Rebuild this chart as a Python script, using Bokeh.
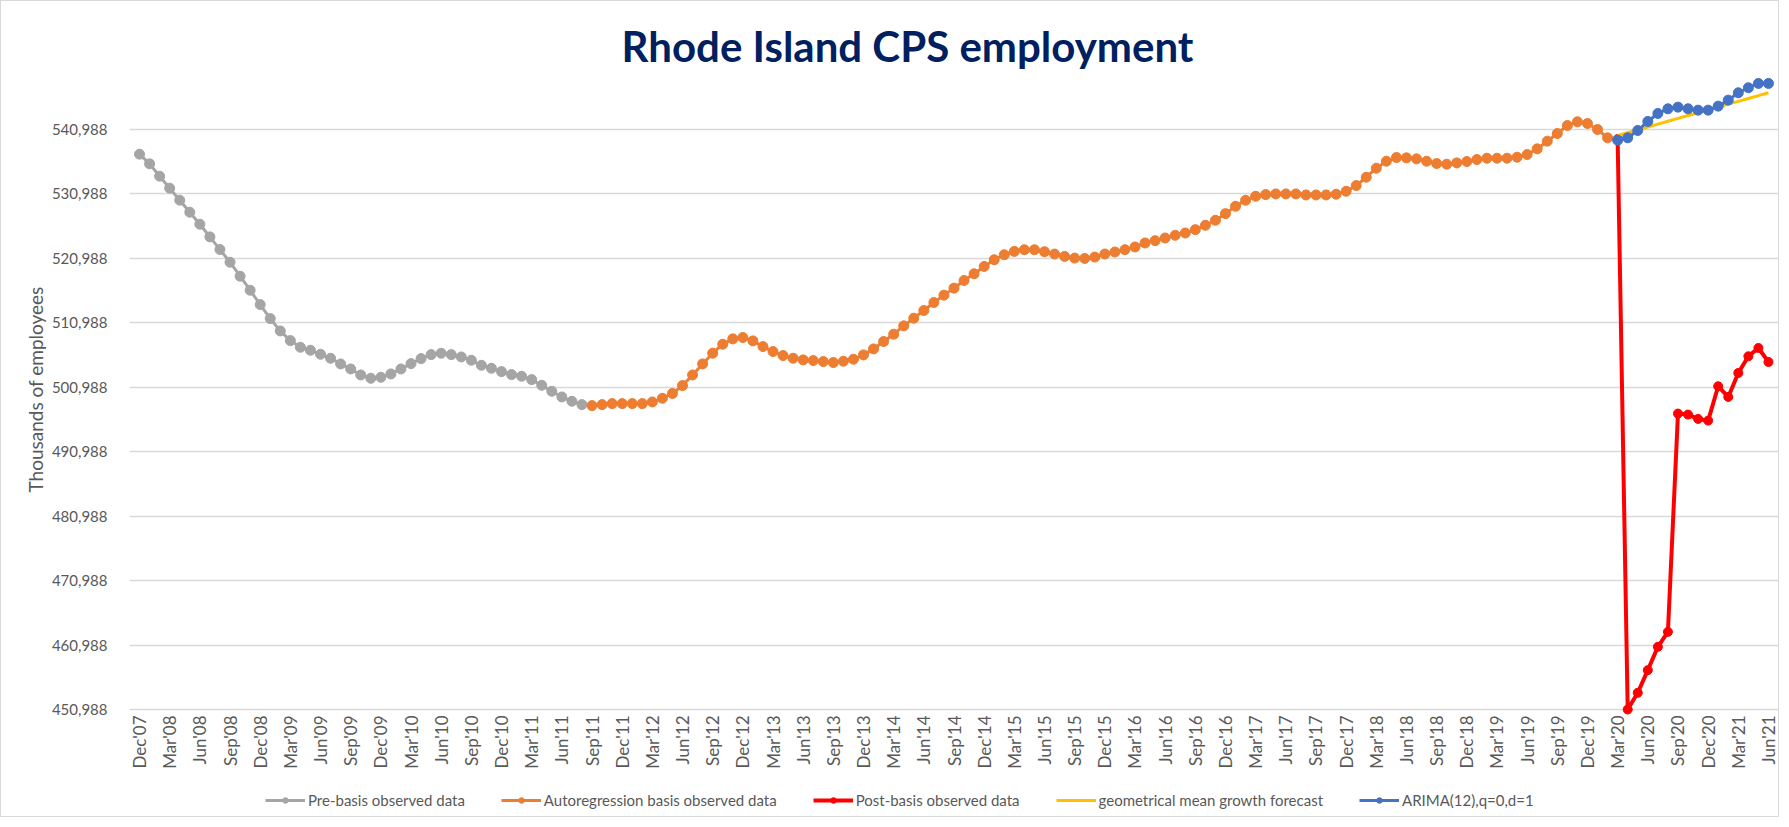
import math
from bokeh.plotting import figure
from bokeh.models import Range1d, FixedTicker, NumeralTickFormatter, Legend, LegendItem, Title
from bokeh.core.properties import value
from bokeh.embed import file_html
from bokeh.resources import INLINE

# ---------------- data ----------------
tick_labels = ["Dec'07", "Mar'08", "Jun'08", "Sep'08", "Dec'08", "Mar'09", "Jun'09", "Sep'09",
               "Dec'09", "Mar'10", "Jun'10", "Sep'10", "Dec'10", "Mar'11", "Jun'11", "Sep'11",
               "Dec'11", "Mar'12", "Jun'12", "Sep'12", "Dec'12", "Mar'13", "Jun'13", "Sep'13",
               "Dec'13", "Mar'14", "Jun'14", "Sep'14", "Dec'14", "Mar'15", "Jun'15", "Sep'15",
               "Dec'15", "Mar'16", "Jun'16", "Sep'16", "Dec'16", "Mar'17", "Jun'17", "Sep'17",
               "Dec'17", "Mar'18", "Jun'18", "Sep'18", "Dec'18", "Mar'19", "Jun'19", "Sep'19",
               "Dec'19", "Mar'20", "Jun'20", "Sep'20", "Dec'20", "Mar'21", "Jun'21"]
n_months = 163  # Dec'07 .. Jun'21

pre_start = 0      # Dec'07
pre_basis = [537159, 535658, 533743, 531880, 530017, 528154, 526291, 524325, 522358, 520392,
             518218, 516045, 513819, 511646, 509731, 508230, 507195, 506729, 506108, 505487,
             504608, 503832, 502900, 502383, 502538, 503055, 503832, 504660, 505436, 506057,
             506264, 506057, 505695, 505177, 504401, 503935, 503418, 502952, 502693, 502176,
             501296, 500364, 499485, 498815, 498297]

ar_start = 45      # Sep'11
ar_basis = [498142, 498297, 498452, 498452, 498452, 498452, 498711, 499280, 500030, 501250,
            502900, 504614, 506272, 507670, 508499, 508706, 508188, 507308, 506531, 505910,
            505495, 505236, 505132, 504977, 504821, 505029, 505339, 506013, 506945, 508085,
            509224, 510519, 511710, 512902, 514145, 515285, 516373, 517564, 518600, 519740,
            520776, 521553, 522071, 522330, 522330, 522019, 521657, 521294, 521035, 520983,
            521190, 521667, 521977, 522340, 522754, 523376, 523739, 524153, 524568, 524930,
            525448, 526121, 526898, 527934, 529074, 530006, 530628, 530887, 530991, 530991,
            530991, 530835, 530835, 530835, 530939, 531405, 532286, 533581, 534979, 536067,
            536637, 536585, 536430, 536067, 535704, 535601, 535808, 536015, 536326, 536533,
            536533, 536533, 536688, 537103, 537983, 539175, 540367, 541610, 542180, 541920,
            540988, 539693]

post_start = 147   # Mar'20
post_basis = [539500, 450988, 453580, 457096, 460714, 463040, 496904, 496749, 496076, 495818,
              501143, 499489, 503211, 505796, 507088, 504917]

geo_forecast = [540056, 540498, 540940, 541382, 541824, 542266, 542708, 543150, 543592, 544034,
                544476, 544918, 545360, 545802, 546244, 546686]

arima = [539330, 539693, 540833, 542232, 543474, 544200, 544459, 544200, 543992, 543992,
         544614, 545546, 546686, 547463, 548137, 548137]

y_ticks = [450988, 460988, 470988, 480988, 490988, 500988, 510988, 520988, 530988, 540988]

# ---------------- layout helpers ----------------
FONT = "Lato"
GREY_TXT = "#595959"
Y_MIN, Y_MAX = 450988, 549988
PLOT_H = 638             # pixel height of the data area (450,988 .. top)
EXTRA_H = 107            # room below the axis for category labels and legend
PLOT_W = 1639            # pixel width of the category area
SIDE_PAD = 5             # extra room left/right so the end labels are not clipped
units_per_px = (Y_MAX - Y_MIN) / PLOT_H
months_per_px = n_months / PLOT_W
y_bottom = Y_MIN - EXTRA_H * units_per_px
x_pad = SIDE_PAD * months_per_px

p = figure(frame_width=PLOT_W + 2 * SIDE_PAD, frame_height=PLOT_H + EXTRA_H, output_backend="svg",
           toolbar_location=None, x_axis_location=None,
           x_range=Range1d(-0.5 - x_pad, n_months - 0.5 + x_pad), y_range=Range1d(y_bottom, Y_MAX),
           min_border_left=133 - SIDE_PAD, min_border_right=0, min_border_top=70, min_border_bottom=0,
           background_fill_color="white", border_fill_color="white")
p.styles = {"border": "1px solid #D9D9D9"}
p.outline_line_color = None

p.title.text = "Rhode Island CPS employment"
p.title.text_font = FONT
p.title.text_font_size = "42px"
p.title.text_font_style = "bold"
p.title.text_color = "#002060"
p.title.align = "left"
p.title.offset = 487 + SIDE_PAD
p.title.standoff = 2

# grid (the 450,988 gridline doubles as the category axis line)
p.xgrid.visible = False
p.ygrid.grid_line_color = "#D9D9D9"
p.ygrid.grid_line_width = 1.5
p.ygrid.ticker = FixedTicker(ticks=y_ticks)

# y axis
p.yaxis.ticker = FixedTicker(ticks=y_ticks)
p.yaxis.formatter = NumeralTickFormatter(format="0,0")
p.yaxis.axis_line_color = None
p.yaxis.major_tick_line_color = None
p.yaxis.minor_tick_line_color = None
p.yaxis.major_label_text_font = FONT
p.yaxis.major_label_text_font_size = "15px"
p.yaxis.major_label_text_color = GREY_TXT
p.yaxis.major_label_standoff = 11 + SIDE_PAD

ytitle = Title(text="Thousands of employees", align="left", offset=324,
               text_font=FONT, text_font_size="19px", text_font_style="normal",
               text_color=GREY_TXT, standoff=4)
p.add_layout(ytitle, "left")

# category (x) labels, vertical, hanging below the 450,988 axis line
x_tick_pos = list(range(0, n_months, 3))
p.text(x=x_tick_pos, y=[Y_MIN - 6 * units_per_px] * len(x_tick_pos), text=tick_labels,
       angle=math.pi / 2, text_align="right", text_baseline="middle",
       text_font=value(FONT), text_font_size="17px", text_color=GREY_TXT)

# ---------------- series ----------------
def xs(start, vals):
    return list(range(start, start + len(vals)))

items = []
l1 = p.line(xs(pre_start, pre_basis), pre_basis, line_width=3, color="#A5A5A5")
s1 = p.scatter(xs(pre_start, pre_basis), pre_basis, size=10, marker="circle", color="#A5A5A5")
items.append(LegendItem(label="Pre-basis observed data", renderers=[l1, s1]))

l2 = p.line(xs(ar_start, ar_basis), ar_basis, line_width=3, color="#ED7D31")
s2 = p.scatter(xs(ar_start, ar_basis), ar_basis, size=10, marker="circle", color="#ED7D31")
items.append(LegendItem(label="Autoregression basis observed data", renderers=[l2, s2]))

l3 = p.line(xs(post_start, post_basis), post_basis, line_width=4, color="#FF0000")
s3 = p.scatter(xs(post_start, post_basis), post_basis, size=9, marker="circle", color="#FF0000")
items.append(LegendItem(label="Post-basis observed data", renderers=[l3, s3]))

l4 = p.line(xs(post_start, geo_forecast), geo_forecast, line_width=3, color="#FFC000")
items.append(LegendItem(label="geometrical mean growth forecast", renderers=[l4]))

l5 = p.line(xs(post_start, arima), arima, line_width=3, color="#4472C4")
s5 = p.scatter(xs(post_start, arima), arima, size=10, marker="circle", color="#4472C4")
items.append(LegendItem(label="ARIMA(12),q=0,d=1", renderers=[l5, s5]))

legend = Legend(items=items, orientation="horizontal", location=(131 + SIDE_PAD, 7),
                border_line_color=None, background_fill_alpha=0,
                label_text_font=FONT, label_text_font_size="15px", label_text_color=GREY_TXT,
                glyph_width=40, glyph_height=14, label_height=16, spacing=36, margin=0, padding=2,
                label_standoff=3)
p.add_layout(legend)

open("out.html", "w").write(file_html(p, INLINE))
